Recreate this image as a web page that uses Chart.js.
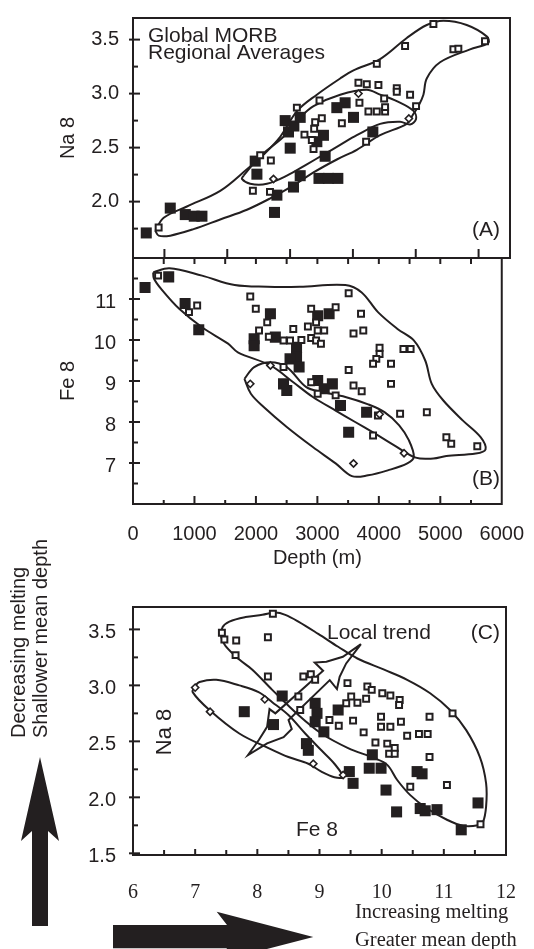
<!DOCTYPE html>
<html>
<head>
<meta charset="utf-8">
<title>Global MORB regional averages</title>
<script src="https://cdn.jsdelivr.net/npm/chart.js@4.4.1/dist/chart.umd.min.js"></script>
<style>
  html, body { margin: 0; padding: 0; background: #ffffff; }
  #wrap { position: relative; width: 534px; height: 949px; overflow: hidden; background: #ffffff; }
  #wrap canvas { position: absolute; left: 0; top: 0; }
</style>
</head>
<body>
<div id="wrap">
  <canvas id="chartA" width="534" height="949"></canvas>
  <canvas id="chartB" width="534" height="949"></canvas>
  <canvas id="chartC" width="534" height="949"></canvas>
</div>
<script>
// ---------- tick values / labels ----------
const depthTicks = [0, 1000, 2000, 3000, 4000, 5000, 6000];
const depthTickLabels = ['0', '1000', '2000', '3000', '4000', '5000', '6000'];
const depthInnerTicks = [1000, 2000, 3000, 4000, 5000];
const depthMinorTicks = [500, 1500, 2500, 3500, 4500, 5500];
const depthAllInner = [500, 1000, 1500, 2000, 2500, 3000, 3500, 4000, 4500, 5000, 5500];
const na8Ticks = [2.0, 2.5, 3.0, 3.5];
const na8TickLabels = ['2.0', '2.5', '3.0', '3.5'];
const na8MinorTicks = [1.75, 2.25, 2.75, 3.25];
const fe8Ticks = [7, 8, 9, 10, 11];
const fe8TickLabels = ['7', '8', '9', '10', '11'];
const fe8MinorTicks = [6.5, 7.5, 8.5, 9.5, 10.5, 11.5];
const naCTicks = [1.5, 2.0, 2.5, 3.0, 3.5];
const naCTickLabels = ['1.5', '2.0', '2.5', '3.0', '3.5'];
const naCMinorTicks = [1.75, 2.25, 2.75, 3.25];
const feCTicks = [6, 7, 8, 9, 10, 11, 12];
const feCTickLabels = ['6', '7', '8', '9', '10', '11', '12'];
const feCInnerTicks = [7, 8, 9, 10, 11];
const feCMinorTicks = [6.5, 7.5, 8.5, 9.5, 10.5, 11.5];

// ---------- Panel A : Na8 vs depth ----------
const aFilledDepth = [211, 593, 832, 975, 1097, 1945, 1972, 2252, 2290, 2422, 2475, 2560, 2502, 2554, 2661, 2661, 2926, 3031, 3058, 2960, 3110, 3260, 3244, 3376, 3509, 3817];
const aFilledNa    = [1.71, 1.94, 1.88, 1.865, 1.865, 2.375, 2.254, 1.90, 2.06, 2.75, 2.645, 2.70, 2.495, 2.135, 2.78, 2.24, 2.555, 2.614, 2.42, 2.215, 2.215, 2.215, 2.87, 2.915, 2.78, 2.645];
const aOpenDepth = [408, 1908, 2180, 2024, 2194, 2608, 2968, 3005, 2899, 2883, 2729, 2846, 2873, 3324, 3588, 3721, 3906, 3880, 4198, 4198, 4410, 3997, 3604, 3747, 3880, 4012, 4012, 4505, 3710, 4330, 4781, 5099, 5178, 5602];
const aOpenNa    = [1.76, 2.10, 2.09, 2.43, 2.38, 2.87, 2.936, 2.771, 2.735, 2.675, 2.62, 2.57, 2.486, 2.726, 3.10, 3.086, 3.08, 3.275, 3.05, 3.017, 2.99, 2.954, 2.915, 2.834, 2.834, 2.834, 2.875, 2.884, 2.555, 3.44, 3.645, 3.41, 3.416, 3.485];
const aDiamondDepth = [2236, 3588, 4390];
const aDiamondNa    = [2.21, 3.0, 2.77];
const aEnvOuterDepth = [355, 488, 858, 1388, 1813, 2077, 2343, 2613, 2926, 3297, 3509, 3933, 4357, 4675, 4940, 5311, 5629, 5656, 5364, 4887, 4675, 4622, 4543, 4450, 4357, 3933, 3562, 3244, 2873, 2555, 2184, 1813, 1388, 964, 593, 408, 355];
const aEnvOuterNa    = [1.73, 1.85, 1.955, 2.10, 2.30, 2.435, 2.60, 2.84, 2.99, 3.14, 3.215, 3.32, 3.515, 3.635, 3.674, 3.635, 3.53, 3.47, 3.41, 3.29, 3.14, 2.99, 2.885, 2.80, 2.72, 2.615, 2.48, 2.39, 2.27, 2.15, 2.03, 1.925, 1.835, 1.745, 1.685, 1.685, 1.73];
const aEnvInnerDepth = [1759, 2024, 2395, 2661, 2873, 3297, 3721, 3933, 4198, 4463, 4505, 4410, 4250, 3933, 3562, 3297, 3031, 2767, 2449, 2131, 1865, 1733, 1759];
const aEnvInnerNa    = [2.24, 2.42, 2.60, 2.78, 2.885, 2.99, 3.035, 2.99, 2.93, 2.84, 2.765, 2.715, 2.74, 2.72, 2.615, 2.525, 2.435, 2.345, 2.24, 2.165, 2.165, 2.21, 2.24];

// ---------- Panel B : Fe8 vs depth ----------
const bFilledDepth = [196, 581, 848, 1070, 2236, 1971, 1971, 2316, 2661, 2661, 2555, 2703, 2449, 2502, 3005, 3111, 3244, 3376, 3509, 3801, 3005, 3191];
const bFilledFe    = [11.28, 11.54, 10.89, 10.25, 10.64, 10.03, 9.86, 10.07, 9.82, 9.58, 9.54, 9.34, 8.93, 8.77, 9.01, 8.81, 8.93, 8.40, 7.75, 8.24, 10.59, 10.64];
const bOpenDepth = [408, 911, 1044, 1908, 1998, 2184, 2051, 2210, 2449, 2555, 2740, 2608, 2899, 2846, 2979, 3005, 3111, 2899, 2979, 3058, 3297, 3509, 3710, 3588, 3747, 4012, 4012, 3959, 3906, 4198, 4400, 4517, 3509, 3588, 3721, 2899, 3005, 3297, 4198, 4346, 4781, 3985, 3906, 5099, 5178, 5602, 2449];
const bOpenFe    = [11.57, 10.68, 10.84, 11.06, 10.76, 10.43, 10.23, 10.08, 9.99, 9.99, 10.0, 10.27, 10.76, 10.33, 10.43, 10.23, 10.23, 10.05, 9.99, 9.91, 10.8, 11.14, 10.64, 10.16, 10.23, 9.81, 9.66, 9.54, 9.42, 9.42, 9.78, 9.78, 9.27, 8.89, 8.75, 8.97, 8.69, 8.65, 8.93, 8.20, 8.24, 8.16, 7.67, 7.63, 7.47, 7.41, 9.34];
const bDiamondDepth = [1908, 2236, 4012, 4410, 3588];
const bDiamondFe    = [8.93, 9.38, 8.19, 7.24, 6.99];
const bEnvOuterDepth = [328, 593, 1123, 1654, 2184, 2714, 3456, 3721, 3986, 4304, 4569, 4755, 4861, 5046, 5364, 5656, 5736, 5577, 5099, 4887, 4600, 4251, 3933, 3615, 3297, 2926, 2608, 2236, 1706, 1547, 1123, 752, 461, 340, 328];
const bEnvOuterFe    = [11.65, 11.75, 11.57, 11.34, 11.30, 11.30, 11.34, 11.16, 10.68, 10.27, 9.99, 9.50, 8.93, 8.53, 8.04, 7.63, 7.33, 7.23, 7.17, 7.11, 7.13, 7.43, 7.72, 8.0, 8.28, 8.61, 8.97, 9.38, 9.70, 9.91, 10.31, 10.76, 11.24, 11.50, 11.65];
const bEnvDiamondDepth = [1813, 1972, 2236, 2502, 2820, 3085, 3456, 3826, 4092, 4331, 4490, 4569, 4463, 4145, 3826, 3562, 3297, 2926, 2502, 2131, 1918, 1813];
const bEnvDiamondFe    = [9.05, 9.34, 9.46, 9.34, 8.85, 8.73, 8.61, 8.43, 8.24, 7.92, 7.55, 7.15, 6.99, 6.82, 6.70, 6.68, 6.99, 7.39, 7.88, 8.36, 8.69, 9.05];

// ---------- Panel C : Na8 vs Fe8 ----------
const cFilledFe = [7.79, 8.26, 8.40, 8.93, 8.96, 8.93, 9.07, 8.79, 8.82, 9.30, 9.48, 9.54, 9.80, 9.85, 9.99, 10.07, 10.24, 10.57, 10.65, 10.62, 10.70, 10.89, 11.28, 11.55];
const cFilledNa = [2.765, 2.65, 2.905, 2.84, 2.75, 2.675, 2.585, 2.48, 2.42, 2.78, 2.23, 2.125, 2.26, 2.38, 2.26, 2.065, 1.87, 2.23, 2.21, 1.90, 1.88, 1.89, 1.71, 1.95];
const cOpenFe = [8.25, 7.43, 7.47, 7.66, 8.17, 7.65, 8.17, 8.74, 8.86, 8.93, 8.66, 8.69, 9.45, 9.77, 9.84, 9.43, 9.51, 9.61, 9.75, 10.01, 10.14, 10.29, 10.28, 9.16, 9.31, 9.54, 9.99, 9.99, 10.14, 10.31, 9.71, 9.90, 10.09, 10.12, 10.21, 10.21, 10.41, 10.60, 10.74, 10.77, 10.77, 10.46, 11.05, 11.14, 11.59];
const cOpenNa = [3.64, 3.47, 3.41, 3.40, 3.43, 3.27, 3.08, 3.08, 3.10, 3.05, 2.90, 2.78, 3.02, 2.99, 2.96, 2.84, 2.90, 2.845, 2.88, 2.93, 2.91, 2.87, 2.825, 2.69, 2.64, 2.685, 2.72, 2.63, 2.63, 2.675, 2.58, 2.49, 2.48, 2.39, 2.44, 2.39, 2.55, 2.565, 2.565, 2.72, 2.36, 2.095, 2.11, 2.75, 1.76];
const cDiamondFe = [7.0, 7.24, 8.12, 8.90, 9.38];
const cDiamondNa = [2.98, 2.765, 2.875, 2.30, 2.20];
const cEnvOuterFe = [7.415, 7.44, 7.55, 7.81, 8.08, 8.29, 8.45, 8.66, 8.98, 9.30, 9.61, 10.04, 10.41, 10.78, 11.10, 11.36, 11.58, 11.68, 11.68, 11.63, 11.55, 11.31, 11.05, 10.73, 10.46, 10.25, 10.09, 9.88, 9.46, 9.03, 8.66, 8.24, 7.92, 7.71, 7.49, 7.415];
const cEnvOuterNa = [3.435, 3.52, 3.57, 3.61, 3.63, 3.65, 3.63, 3.57, 3.46, 3.345, 3.24, 3.14, 3.05, 2.93, 2.78, 2.60, 2.36, 2.125, 1.92, 1.78, 1.75, 1.745, 1.80, 1.90, 2.02, 2.155, 2.29, 2.35, 2.44, 2.57, 2.735, 2.96, 3.14, 3.23, 3.35, 3.435];
const cEnvDiamondFe = [6.99, 7.07, 7.34, 7.71, 8.02, 8.24, 8.50, 8.77, 9.03, 9.24, 9.38, 9.24, 9.03, 8.82, 8.50, 8.18, 7.71, 7.23, 6.96, 6.99];
const cEnvDiamondNa = [2.99, 3.03, 3.05, 3.00, 2.94, 2.85, 2.735, 2.57, 2.42, 2.30, 2.18, 2.18, 2.23, 2.30, 2.36, 2.44, 2.57, 2.78, 2.94, 2.99];
const cTrendFe = [9.667, 9.376, 9.111, 8.923, 9.058, 8.290, 8.196, 8.157, 8.024, 7.850, 8.157, 8.422, 8.554, 8.502, 9.165, 9.281, 9.324, 9.429, 9.667];
const cTrendNa = [3.369, 3.255, 3.211, 3.204, 3.130, 2.750, 2.788, 2.630, 2.512, 2.378, 2.482, 2.538, 2.610, 2.690, 3.047, 2.967, 3.077, 3.196, 3.369];

// ---------- styling helpers ----------
const INK = '#231f20';
const SANS = '"Liberation Sans", Arial, Helvetica, sans-serif';
const SERIF = '"Liberation Serif", "Times New Roman", Times, serif';

const pts = (xs, ys) => xs.map((x, i) => ({ x: x, y: ys[i] }));
const filledSet = (xs, ys) => ({ data: pts(xs, ys), showLine: false, pointStyle: 'rect', pointRadius: 7.8, pointHoverRadius: 7.8, backgroundColor: INK, borderColor: INK, borderWidth: 0, order: 3 });
const openSet = (xs, ys) => ({ data: pts(xs, ys), showLine: false, pointStyle: 'rect', pointRadius: 4.2, pointHoverRadius: 4.2, backgroundColor: '#ffffff', borderColor: INK, borderWidth: 2, order: 2 });
const diamondSet = (xs, ys) => ({ data: pts(xs, ys), showLine: false, pointStyle: 'rectRot', pointRadius: 3.6, pointHoverRadius: 3.6, backgroundColor: '#ffffff', borderColor: INK, borderWidth: 1.6, order: 1 });
const curveSet = (xs, ys, tension) => ({ data: pts(xs, ys), showLine: true, pointRadius: 0, pointHoverRadius: 0, borderColor: INK, backgroundColor: 'rgba(0,0,0,0)', borderWidth: 2, tension: tension, fill: false, order: 4 });

function yAxis(min, max, ticks, labels, pad, offset, title) {
  return {
    type: 'linear', position: 'left', min: min, max: max,
    afterFit: s => { s.width = 133; },
    afterBuildTicks: s => { s.ticks = ticks.map(v => ({ value: v })); },
    ticks: { callback: (v, i) => labels[i], font: { family: SANS, size: 20 }, color: INK, padding: pad, labelOffset: offset, autoSkip: false },
    grid: { display: false }, border: { display: false },
    title: title ? { display: true, text: title, font: { family: SANS, size: 20 }, color: INK, padding: { top: 56, bottom: 0 } } : { display: false }
  };
}

function frameTicks(name, spec) {
  return {
    id: 'frame' + name,
    afterDraw(chart) {
      const ctx = chart.ctx, a = chart.chartArea, sx = chart.scales.x, sy = chart.scales.y;
      ctx.save();
      ctx.strokeStyle = INK; ctx.lineWidth = 2; ctx.lineCap = 'butt';
      const seg = (x1, y1, x2, y2) => { ctx.beginPath(); ctx.moveTo(x1, y1); ctx.lineTo(x2, y2); ctx.stroke(); };
      (spec.yMajor || []).forEach(v => { const p = sy.getPixelForValue(v); seg(a.left - 4, p, a.left + 7, p); });
      (spec.yMinor || []).forEach(v => { const p = sy.getPixelForValue(v); seg(a.left, p, a.left + 5, p); });
      (spec.xMajor || []).forEach(v => { const p = sx.getPixelForValue(v); seg(p, a.bottom, p, a.bottom - (spec.xMajorLen || 8)); });
      (spec.xMinor || []).forEach(v => { const p = sx.getPixelForValue(v); seg(p, a.bottom, p, a.bottom - (spec.xMinorLen || 4)); });
      (spec.xTop || []).forEach(v => { const p = sx.getPixelForValue(v); seg(p, a.top, p, a.top + 6); });
      ctx.strokeRect(a.left, a.top, a.right - a.left, a.bottom - a.top);
      ctx.restore();
    }
  };
}

function notes(name, items, shapes) {
  return {
    id: 'notes' + name,
    afterDraw(chart) {
      const ctx = chart.ctx;
      ctx.save();
      ctx.fillStyle = INK;
      (shapes || []).forEach(poly => {
        ctx.beginPath();
        poly.forEach((p, i) => i ? ctx.lineTo(p[0], p[1]) : ctx.moveTo(p[0], p[1]));
        ctx.closePath(); ctx.fill();
      });
      (items || []).forEach(it => {
        ctx.save();
        ctx.font = it.font;
        ctx.textAlign = it.align || 'left';
        ctx.textBaseline = 'alphabetic';
        ctx.translate(it.x, it.y);
        if (it.rot) ctx.rotate(it.rot);
        ctx.fillText(it.text, 0, 0);
        ctx.restore();
      });
      ctx.restore();
    }
  };
}

const base = (padding) => ({
  responsive: false, maintainAspectRatio: false, animation: false, devicePixelRatio: 1, events: [],
  layout: { padding: padding, autoPadding: false },
  plugins: { legend: { display: false }, tooltip: { enabled: false } }
});
const F21 = '21px ' + SANS;
const F20 = '20px ' + SANS;

// ---------- Chart A ----------
new Chart(document.getElementById('chartA'), {
  type: 'line',
  data: { datasets: [
    curveSet(aEnvOuterDepth, aEnvOuterNa, 0.35),
    curveSet(aEnvInnerDepth, aEnvInnerNa, 0.35),
    filledSet(aFilledDepth, aFilledNa),
    openSet(aOpenDepth, aOpenNa),
    diamondSet(aDiamondDepth, aDiamondNa)
  ] },
  options: Object.assign(base({ left: 0, top: 11, right: 24, bottom: 691 }), {
    scales: {
      x: { type: 'linear', min: 0, max: 6000, display: false },
      y: yAxis(1.478, 3.70, na8Ticks, na8TickLabels, 6, 0, 'Na 8')
    }
  }),
  plugins: [
    frameTicks('A', { yMajor: na8Ticks, yMinor: na8MinorTicks, xMajor: depthMinorTicks, xMajorLen: 9 }),
    notes('A', [
      { text: 'Global MORB', x: 148, y: 41.5, font: F21 },
      { text: 'Regional Averages', x: 148, y: 59, font: F21 },
      { text: '(A)', x: 500, y: 236, font: F21, align: 'right' }
    ])
  ]
});

// ---------- Chart B ----------
new Chart(document.getElementById('chartB'), {
  type: 'line',
  data: { datasets: [
    curveSet(bEnvOuterDepth, bEnvOuterFe, 0.35),
    curveSet(bEnvDiamondDepth, bEnvDiamondFe, 0.35),
    filledSet(bFilledDepth, bFilledFe),
    openSet(bOpenDepth, bOpenFe),
    diamondSet(bDiamondDepth, bDiamondFe)
  ] },
  options: Object.assign(base({ left: 0, top: 258, right: 24, bottom: 375 }), {
    scales: {
      x: {
        type: 'linear', position: 'bottom', min: 0, max: 6000,
        afterFit: s => { s.height = 70; },
        afterBuildTicks: s => { s.ticks = depthTicks.map(v => ({ value: v })); },
        ticks: { callback: (v, i) => depthTickLabels[i], font: { family: SANS, size: 20 }, color: INK, padding: 10, maxRotation: 0, autoSkip: false },
        grid: { display: false }, border: { display: false },
        title: { display: true, text: 'Depth (m)', font: { family: SANS, size: 20 }, color: INK, padding: { top: 0, bottom: 4 } }
      },
      y: yAxis(6, 12, fe8Ticks, fe8TickLabels, 9, 3.5, 'Fe 8')
    }
  }),
  plugins: [
    frameTicks('B', { yMajor: fe8Ticks, yMinor: fe8MinorTicks, xMajor: depthInnerTicks, xMinor: depthMinorTicks, xTop: depthAllInner }),
    notes('B', [
      { text: '(B)', x: 500, y: 485, font: F21, align: 'right' }
    ])
  ]
});

// ---------- Chart C ----------
new Chart(document.getElementById('chartC'), {
  type: 'line',
  data: { datasets: [
    curveSet(cEnvOuterFe, cEnvOuterNa, 0.35),
    curveSet(cEnvDiamondFe, cEnvDiamondNa, 0.35),
    curveSet(cTrendFe, cTrendNa, 0),
    filledSet(cFilledFe, cFilledNa),
    openSet(cOpenFe, cOpenNa),
    diamondSet(cDiamondFe, cDiamondNa)
  ] },
  options: Object.assign(base({ left: 0, top: 607, right: 24, bottom: 24 }), {
    scales: {
      x: {
        type: 'linear', position: 'bottom', min: 6, max: 12,
        afterFit: s => { s.height = 70; },
        afterBuildTicks: s => { s.ticks = feCTicks.map(v => ({ value: v })); },
        ticks: { callback: (v, i) => feCTickLabels[i], font: { family: SERIF, size: 20 }, color: INK, padding: 18, maxRotation: 0, autoSkip: false },
        grid: { display: false }, border: { display: false },
        title: { display: false }
      },
      y: yAxis(1.485, 3.70, naCTicks, naCTickLabels, 9, 3.5, null)
    }
  }),
  plugins: [
    frameTicks('C', { yMajor: naCTicks, yMinor: naCMinorTicks, xMajor: feCInnerTicks, xMinor: feCMinorTicks, xMajorLen: 6, xMinorLen: 5 }),
    notes('C', [
      { text: '(C)', x: 500, y: 639, font: F21, align: 'right' },
      { text: 'Local trend', x: 327, y: 639, font: F21 },
      { text: 'Fe 8', x: 317, y: 836, font: F21, align: 'center' },
      { text: 'Na 8', x: 171, y: 732, font: '22px ' + SANS, align: 'center', rot: -Math.PI / 2 },
      { text: 'Decreasing melting', x: 24.5, y: 738, font: F20, rot: -Math.PI / 2 },
      { text: 'Shallower mean depth', x: 47, y: 738, font: F20, rot: -Math.PI / 2 },
      { text: 'Increasing melting', x: 355, y: 918, font: '20.5px ' + SERIF },
      { text: 'Greater mean depth', x: 355, y: 946, font: '20.5px ' + SERIF }
    ], [
      [[32, 926], [48, 926], [48, 831], [59, 841], [40, 757], [21, 841], [32, 831]],
      [[113, 925], [227, 925], [216.7, 911.7], [313.3, 937], [216.7, 962], [227, 948.3], [113, 948.3]]
    ])
  ]
});
</script>
</body>
</html>
